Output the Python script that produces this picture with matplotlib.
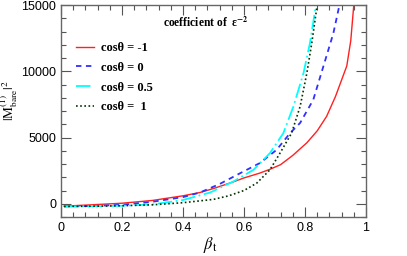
import matplotlib
matplotlib.use("Agg")
import matplotlib.pyplot as plt
from matplotlib.ticker import MultipleLocator

plt.rcParams["mathtext.fontset"] = "stix"

# data
b_red = [0.01, 0.1, 0.2, 0.3, 0.4, 0.456, 0.5, 0.565, 0.6, 0.65, 0.685, 0.72, 0.76, 0.806, 0.84, 0.871, 0.9, 0.937, 0.95, 0.96]
y_red = [-180, -80, 40, 250, 600, 850, 1150, 1650, 1950, 2300, 2600, 2950, 3650, 4600, 5500, 6600, 8100, 10400, 12300, 15000]

b_blue = [0.01, 0.1, 0.2, 0.3, 0.4, 0.456, 0.521, 0.587, 0.652, 0.707, 0.751, 0.784, 0.827, 0.86, 0.893, 0.913]
y_blue = [-200, -170, -80, 150, 500, 850, 1500, 2300, 3070, 4070, 5330, 6100, 7840, 10350, 12870, 15000]

b_cyan = [0.01, 0.1, 0.2, 0.3, 0.4, 0.489, 0.565, 0.631, 0.685, 0.729, 0.762, 0.795, 0.816, 0.836]
y_cyan = [-200, -190, -150, -50, 280, 850, 1680, 2560, 3820, 5330, 7340, 9850, 12100, 15000]

b_green = [0.01, 0.1, 0.2, 0.3, 0.4, 0.5, 0.55, 0.6, 0.642, 0.685, 0.718, 0.756, 0.784, 0.806, 0.822, 0.84]
y_green = [-200, -190, -150, -80, 80, 330, 600, 1000, 1560, 2560, 3820, 5330, 7340, 9850, 12100, 15000]

labels = ["cosθ = -1", "cosθ = 0", "cosθ = 0.5", "cosθ =  1"]

fig = plt.figure(figsize=(4.07, 2.56), dpi=100)
ax = fig.add_axes([61/407, 1 - 217/256, 305/407, 212/256])

ax.plot(b_red, y_red, color="#ff2020", lw=1.0, label=labels[0])
ax.plot(b_blue, y_blue, color="#3030ff", lw=1.3, ls=(0, (3, 2.5)), label=labels[1])
ax.plot(b_cyan, y_cyan, color="#00ffff", lw=1.3, ls=(0, (8, 2, 1, 2)), label=labels[2])
ax.plot(b_green, y_green, color="#003300", lw=1.2, ls=(0, (1, 1.5)), label=labels[3])

ax.set_xlim(0, 1)
ax.set_ylim(-1000, 15000)
ax.xaxis.set_major_locator(MultipleLocator(0.2))
ax.xaxis.set_minor_locator(MultipleLocator(0.04))
ax.yaxis.set_major_locator(MultipleLocator(5000))
ax.yaxis.set_minor_locator(MultipleLocator(1000))
ax.set_xticks([0, 0.2, 0.4, 0.6, 0.8, 1.0])
ax.set_xticklabels(["0", "0.2", "0.4", "0.6", "0.8", "1"])
ax.tick_params(which="both", direction="in", top=True, right=True, colors="#555555",
               labelcolor="black", labelsize=9, width=0.8)
ax.tick_params(which="major", length=7)
ax.tick_params(which="minor", length=3.5)
for lab in ax.get_xticklabels() + ax.get_yticklabels():
    lab.set_family("Liberation Sans")
for s in ax.spines.values():
    s.set_color("#666666")
    s.set_linewidth(1.0)

leg = ax.legend(loc="upper left", bbox_to_anchor=(0.05, 0.825), frameon=False,
                prop={"family": "Liberation Serif", "weight": "bold", "size": 9},
                handlelength=1.4, handletextpad=0.6, labelspacing=0.62,
                borderaxespad=0, borderpad=0)
ax.text(0.334, 0.915, "coefficient of  ε$^{\\mathbf{-2}}$", transform=ax.transAxes,
        family="Liberation Serif", weight="bold", fontsize=8.3, va="center")

ax.set_xlabel(r"$\beta_{\rm t}$", fontsize=12)
ax.xaxis.set_label_coords(0.489, -0.085)
ax.set_ylabel(r"$|{\rm M}^{(1)}_{\rm bare}|^2$", fontsize=9.5)
ax.yaxis.set_label_coords(-0.135, 0.55)

fig.savefig("out.png", dpi=100)
